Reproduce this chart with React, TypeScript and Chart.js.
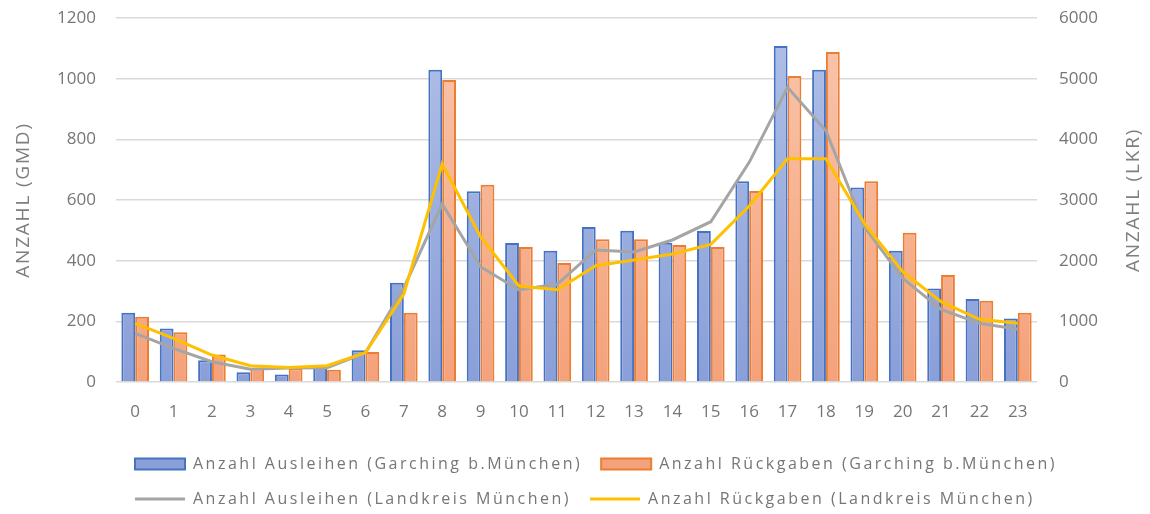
import React, { useEffect, useRef } from "react";
import { Chart, registerables } from "chart.js";

Chart.register(...registerables);

const hours = ["0","1","2","3","4","5","6","7","8","9","10","11","12","13","14","15","16","17","18","19","20","21","22","23"];
const ausleihenGarching = [228,176,72,32,25,50,105,327,1029,629,458,433,511,499,459,498,662,1108,1029,641,433,308,274,209];
const rueckgabenGarching = [215,164,91,45,45,40,99,228,996,650,445,392,471,471,452,445,630,1009,1088,662,492,353,268,228];
const ausleihenLandkreis = [803,555,335,209,230,236,483,1550,2934,1901,1516,1615,2176,2143,2341,2642,3621,4857,4142,2560,1709,1198,967,868];
const rueckgabenLandkreis = [967,720,445,269,240,269,483,1450,3593,2395,1582,1522,1917,2011,2110,2269,2901,3681,3681,2615,1819,1324,1033,967];
const leftTitle = "ANZAHL (GMD)";
const rightTitle = "ANZAHL (LKR)";

const TEXT = "#767676";
const TITLE = "#7F7F7F";
const FONT = "'Open Sans', sans-serif";

function grad(c1: string, c2: string) {
  return (ctx: any) => {
    const chart = ctx.chart;
    const area = chart.chartArea;
    if (!area) return c2;
    const g = chart.ctx.createLinearGradient(0, area.top, 0, area.bottom);
    g.addColorStop(0, c1);
    g.addColorStop(1, c2);
    return g;
  };
}

const legendSpacing = {
  id: "legendSpacing",
  beforeUpdate(chart: any) {
    const lg = chart.legend;
    if (lg && !lg.__wrapped) {
      lg.__wrapped = true;
      const fit = lg.fit.bind(lg);
      const draw = lg.draw.bind(lg);
      lg.fit = function () {
        const c = chart.ctx;
        const prev = c.letterSpacing;
        c.letterSpacing = "2.5px";
        fit();
        c.letterSpacing = prev || "0px";
      };
      lg.draw = function (...a: any[]) {
        const c = chart.ctx;
        const prev = c.letterSpacing;
        c.save();
        const dx = 135 - (lg.left + lg.options.labels.padding);
        c.translate(dx, 3);
        c.letterSpacing = "2.5px";
        draw(...a);
        c.restore();
        c.letterSpacing = prev || "0px";
      };
    }
  },
};

const axisTitles = {
  id: "axisTitles",
  afterDraw(chart: any) {
    const s = chart.scales.y;
    const c = chart.ctx;
    const cy = (s.top + s.bottom) / 2;
    const put = (text: string, x: number) => {
      c.save();
      c.translate(x, cy);
      c.rotate(-Math.PI / 2);
      c.font = `19px ${FONT}`;
      c.letterSpacing = "1.8px";
      c.fillStyle = TITLE;
      c.textAlign = "center";
      c.textBaseline = "middle";
      c.fillText(text, 0, 0);
      c.letterSpacing = "0px";
      c.restore();
    };
    put(leftTitle, 24);
    put(rightTitle, 1134);
  },
};

export default function App() {
  const ref = useRef<HTMLCanvasElement>(null);
  useEffect(() => {
    document.body.style.margin = "0";
    const chart = new Chart(ref.current!, {
      type: "bar",
      data: {
        labels: hours,
        datasets: [
          {
            type: "bar",
            label: "Anzahl Ausleihen (Garching b.München)",
            data: ausleihenGarching,
            backgroundColor: grad("#B0C0E6", "#8A9FD8"),
            borderColor: "#4472C4",
            borderWidth: 2,
            yAxisID: "y",
            order: 3,
            pointStyle: "rect",
            barPercentage: 1,
            categoryPercentage: 0.72,
          },
          {
            type: "bar",
            label: "Anzahl Rückgaben (Garching b.München)",
            data: rueckgabenGarching,
            backgroundColor: grad("#F9C6AC", "#F4A27B"),
            borderColor: "#ED7D31",
            borderWidth: 2,
            yAxisID: "y",
            order: 4,
            pointStyle: "rect",
            barPercentage: 1,
            categoryPercentage: 0.72,
          },
          {
            type: "line",
            label: "Anzahl Ausleihen (Landkreis München)",
            data: ausleihenLandkreis,
            borderColor: "#A5A5A5",
            backgroundColor: "#A5A5A5",
            borderWidth: 3,
            pointRadius: 0,
            tension: 0,
            yAxisID: "y1",
            order: 2,
            pointStyle: "line",
          },
          {
            type: "line",
            label: "Anzahl Rückgaben (Landkreis München)",
            data: rueckgabenLandkreis,
            borderColor: "#FFC000",
            backgroundColor: "#FFC000",
            borderWidth: 3,
            pointRadius: 0,
            tension: 0,
            yAxisID: "y1",
            order: 1,
            pointStyle: "line",
          },
        ] as any,
      },
      options: {
        animation: false,
        responsive: false,
        layout: { padding: { top: 18, left: 0, right: 0, bottom: 0 } },
        plugins: {
          tooltip: { enabled: false },
          legend: {
            position: "bottom",
            align: "start",
            labels: {
              usePointStyle: true,
              pointStyleWidth: 50,
              boxHeight: 11,
              padding: 19,
              color: TEXT,
              font: { family: FONT, size: 16 },
              sort: (a: any, b: any) => a.datasetIndex - b.datasetIndex,
            },
          },
        },
        scales: {
          x: {
            grid: { display: false },
            border: { display: false },
            ticks: { color: TEXT, font: { family: FONT, size: 17 }, padding: 12 },
            afterFit: (s: any) => { s.height = 52; s.paddingLeft = 0; s.paddingRight = 0; },
          },
          y: {
            position: "left",
            min: 0,
            max: 1200,
            ticks: { stepSize: 200, color: TEXT, font: { family: FONT, size: 17 }, padding: 20, callback: (v: any) => String(v) },
            grid: { color: "#D9D9D9", lineWidth: 1.5, drawTicks: false },
            border: { display: false },
            afterFit: (s: any) => { s.width = 116; s.paddingTop = 0; s.paddingBottom = 0; },
          },
          y1: {
            position: "right",
            min: 0,
            max: 6000,
            ticks: { stepSize: 1000, color: TEXT, font: { family: FONT, size: 17 }, padding: 22, callback: (v: any) => String(v) },
            grid: { display: false, drawTicks: false },
            border: { display: false },
            afterFit: (s: any) => { s.width = 113; s.paddingTop = 0; s.paddingBottom = 0; },
          },
        },
      } as any,
      plugins: [legendSpacing, axisTitles],
    });
    return () => chart.destroy();
  }, []);
  return (
    <div style={{ width: 1150, height: 514 }}>
      <canvas ref={ref} width={1150} height={514} />
    </div>
  );
}
